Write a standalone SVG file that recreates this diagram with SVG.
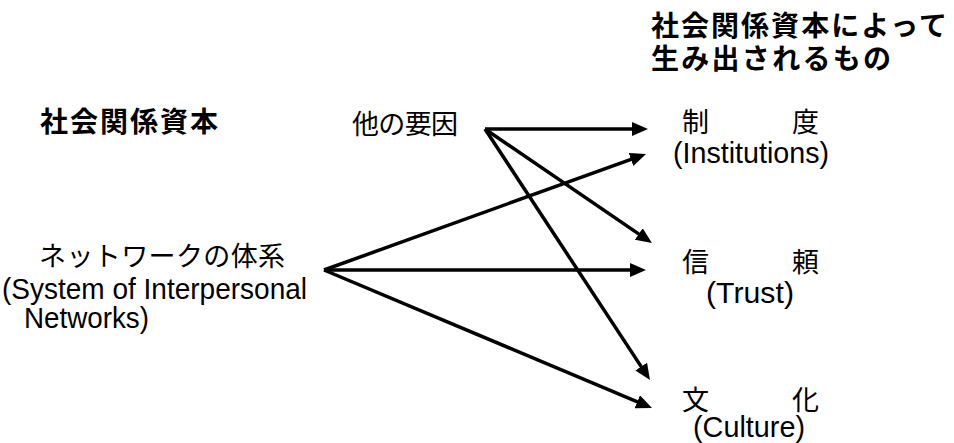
<svg xmlns="http://www.w3.org/2000/svg" width="954" height="443" viewBox="0 0 954 443">
<defs>
<style>
.jb{font-family:"Noto Sans CJK JP",sans-serif;font-weight:bold;font-size:28px;fill:#000}
.jr{font-family:"Noto Sans CJK JP",sans-serif;font-size:27px;fill:#000}
.en{font-family:"Liberation Sans","Noto Sans CJK JP",sans-serif;font-size:30px;fill:#000}
.conn line{stroke:#000;stroke-width:3.5;fill:none;marker-end:url(#ah)}
</style>
<marker id="ah" markerUnits="userSpaceOnUse" viewBox="0 0 16 14" markerWidth="16" markerHeight="14" refX="6" refY="7" orient="auto">
<path d="M0,0 L16,7 L0,14 z" fill="#000"/>
</marker>
</defs>
<rect width="954" height="443" fill="#fff"/>
<g id="title">
<text class="jb" x="651" y="36" textLength="296" lengthAdjust="spacing">社会関係資本によって</text>
<text class="jb" x="651" y="69" textLength="240" lengthAdjust="spacing">生み出されるもの</text>
</g>
<g id="social-capital">
<text class="jb" x="40" y="132" textLength="178" lengthAdjust="spacing">社会関係資本</text>
</g>
<g id="other-factors">
<text class="jr" x="352" y="134" textLength="106" lengthAdjust="spacing">他の要因</text>
</g>
<g id="networks">
<text class="jr" x="39" y="266" textLength="246" lengthAdjust="spacing">ネットワークの体系</text>
<text class="en" x="2" y="299" textLength="305" lengthAdjust="spacingAndGlyphs">(System of Interpersonal</text>
<text class="en" x="24" y="328" textLength="125" lengthAdjust="spacingAndGlyphs">Networks)</text>
</g>
<g id="institutions">
<text class="jr" x="682 792" y="132">制度</text>
<text class="en" x="673" y="163" textLength="156" lengthAdjust="spacingAndGlyphs">(Institutions)</text>
</g>
<g id="trust">
<text class="jr" x="682 792" y="272">信頼</text>
<text class="en" x="706" y="303" textLength="88" lengthAdjust="spacingAndGlyphs">(Trust)</text>
</g>
<g id="culture">
<text class="jr" x="682 792" y="410">文化</text>
<text class="en" x="693" y="437" textLength="112" lengthAdjust="spacingAndGlyphs">(Culture)</text>
</g>
<g id="connectors" class="conn">
<line x1="485" y1="129" x2="638" y2="129"/>
<line x1="485" y1="129" x2="643.7" y2="237.4"/>
<line x1="485" y1="129" x2="644.5" y2="371.6"/>
<line x1="324" y1="270" x2="636.6" y2="157.4"/>
<line x1="324" y1="270" x2="636" y2="270"/>
<line x1="324" y1="270" x2="642.8" y2="404.1"/>
</g>
</svg>
